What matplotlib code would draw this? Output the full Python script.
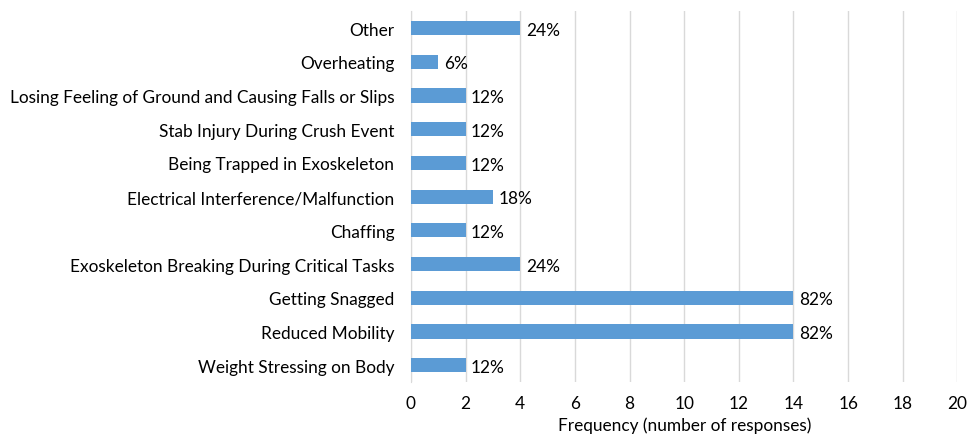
import matplotlib
matplotlib.use("Agg")
import matplotlib.pyplot as plt

plt.rcParams['font.family'] = ['Lato', 'DejaVu Sans']

categories = [
    "Weight Stressing on Body",
    "Reduced Mobility",
    "Getting Snagged",
    "Exoskeleton Breaking During Critical Tasks",
    "Chaffing",
    "Electrical Interference/Malfunction",
    "Being Trapped in Exoskeleton",
    "Stab Injury During Crush Event",
    "Losing Feeling of Ground and Causing Falls or Slips",
    "Overheating",
    "Other",
]
frequency = [2, 14, 14, 4, 2, 3, 2, 2, 2, 1, 4]
percent_labels = ["12%", "82%", "82%", "24%", "12%", "18%", "12%", "12%", "12%", "6%", "24%"]
x_ticks = [0, 2, 4, 6, 8, 10, 12, 14, 16, 18, 20]

fig = plt.figure(figsize=(9.7, 4.35), dpi=100)
ax = fig.add_axes([0.4237, 0.1195, 0.5633, 0.8525])

ypos = list(range(len(categories)))
ax.barh(ypos, frequency, height=0.42, color="#5B9BD5", zorder=3)
for y, v, lab in zip(ypos, frequency, percent_labels):
    ax.text(v + 0.2, y - 0.05, lab, va="center", ha="left", fontsize=12.4, color="#000000")

ax.set_xlim(0, 20)
ax.set_ylim(-0.5, len(categories) - 0.5)
ax.set_xticks(x_ticks)
ax.set_xticklabels([str(t) for t in x_ticks], fontsize=12.4)
ax.set_yticks(ypos)
ax.set_yticklabels(categories, fontsize=12.4)
ax.tick_params(axis="both", length=0)
ax.tick_params(axis="y", pad=12)
ax.tick_params(axis="x", pad=9)
ax.xaxis.grid(True, color="#D9D9D9", linewidth=1, zorder=0)
for s in ["top", "right", "bottom"]:
    ax.spines[s].set_visible(False)
ax.spines["left"].set_color("#D9D9D9")
ax.set_xlabel("Frequency (number of responses)", fontsize=12.4, labelpad=4)

fig.savefig("out.png", dpi=100)
